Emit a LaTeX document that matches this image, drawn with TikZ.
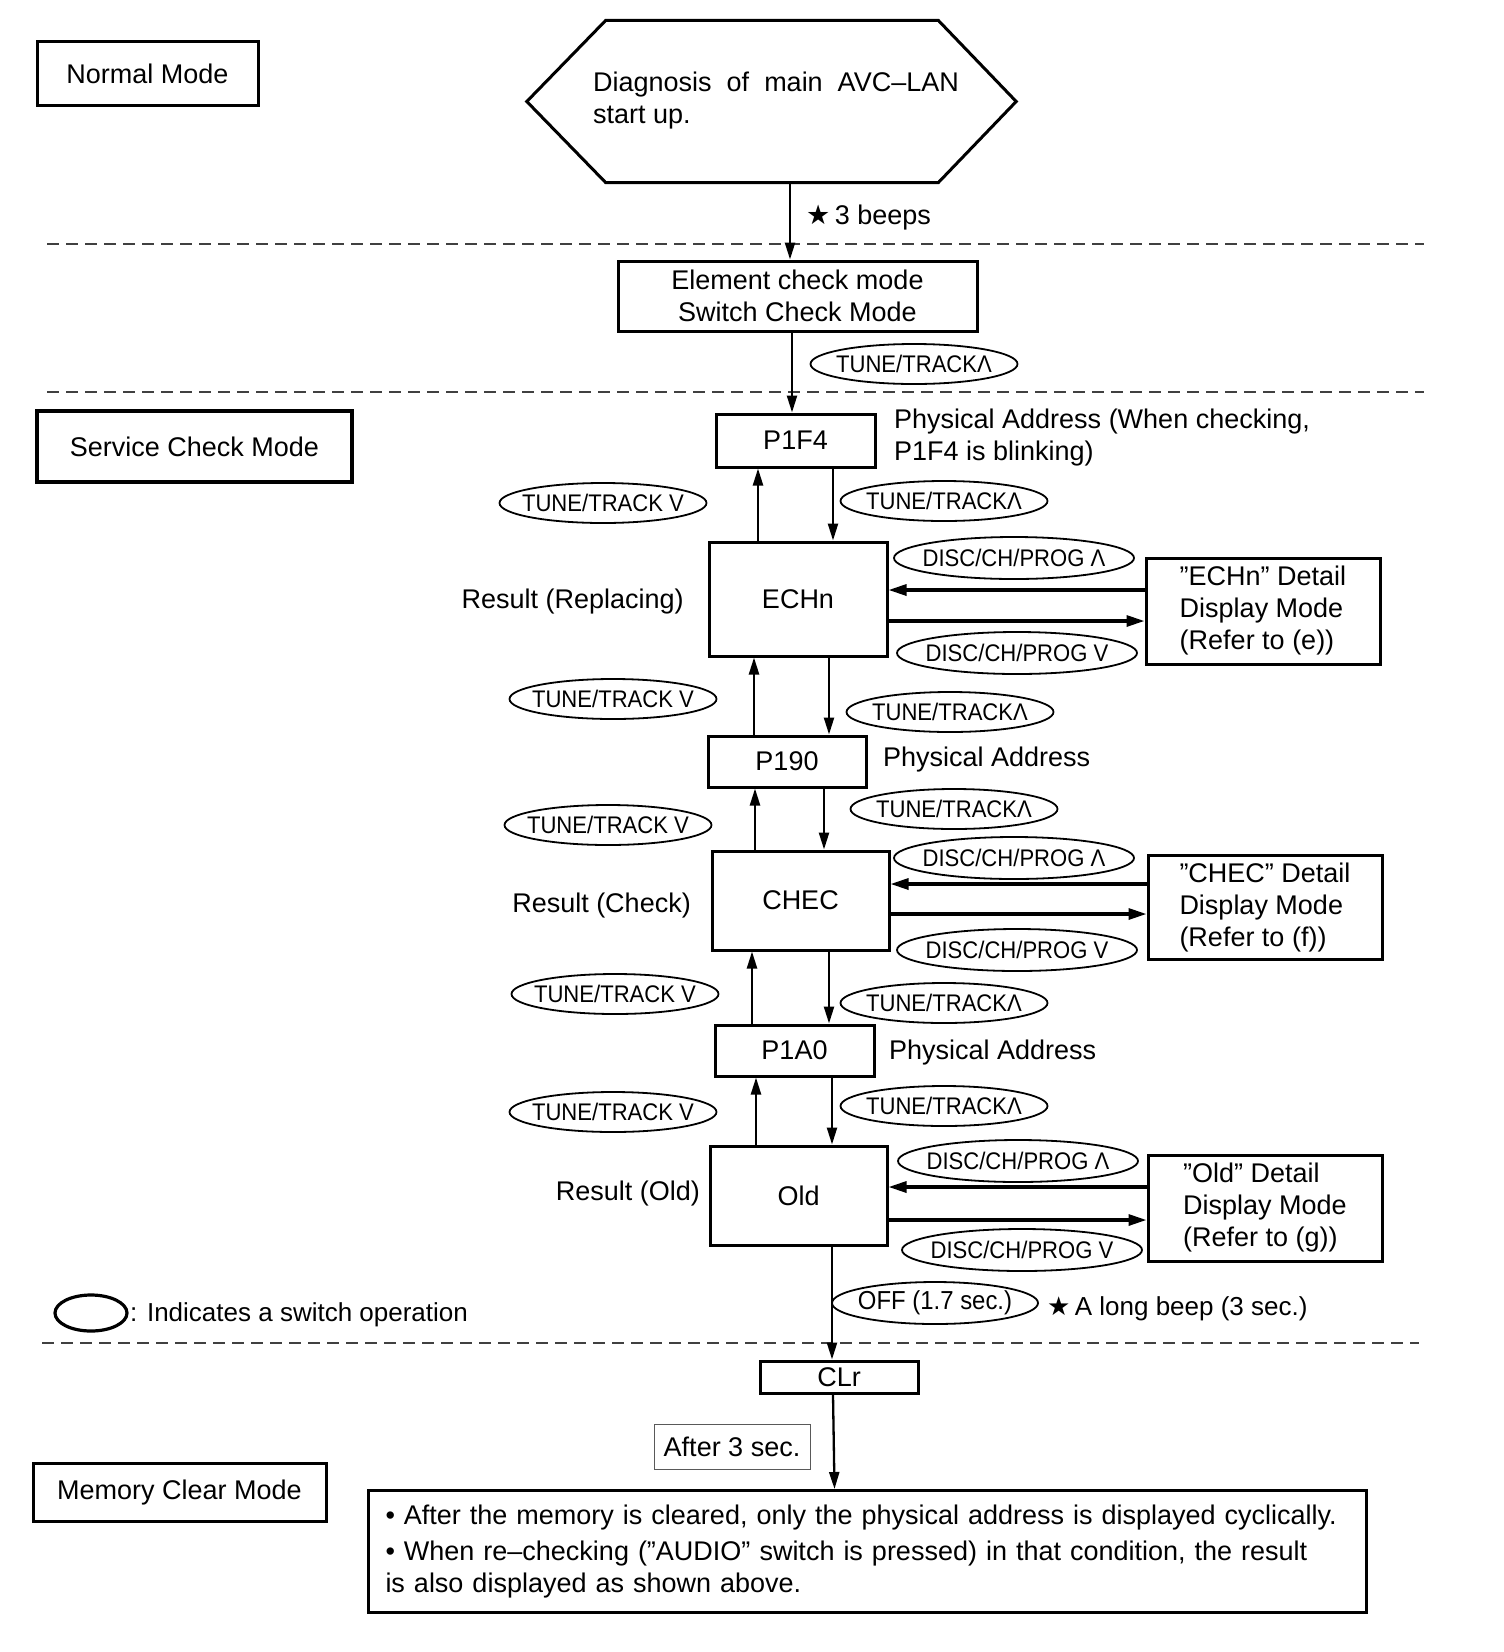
\documentclass[tikz,border=0pt]{standalone}
\usepackage{fontspec}
\setmainfont{Liberation Sans}
\newfontfamily\djv{DejaVu Sans}
\newfontfamily\condfont[FakeStretch=0.92]{Liberation Sans}
\usetikzlibrary{shapes.geometric,arrows.meta,calc}
\newcommand\mainsz{\fontsize{27}{32}\selectfont}
\newcommand\ellsz{\condfont\fontsize{24}{28}\selectfont}
\begin{document}
\begin{tikzpicture}[x=1pt,y=-1pt,
  box/.style={draw,line width=3pt,inner sep=0pt,align=center,font=\mainsz},
  sw/.style={draw,ellipse,line width=1.8pt,inner xsep=-30pt,inner ysep=-12pt,font=\ellsz,minimum width=207pt,minimum height=40pt},
  dsw/.style={sw,minimum width=240pt,minimum height=42pt},
  txt/.style={inner sep=0pt,font=\mainsz,align=left},
  arr/.style={line width=2.3pt,-{Triangle[length=17pt,width=10pt]}},
  harr/.style={line width=3.2pt,-{Triangle[length=18pt,width=11pt]}},
  dashln/.style={line width=1.5pt,black!75,dash pattern=on 12pt off 7pt}]
\useasboundingbox (0,0) rectangle (1504,1652);
\fill[white] (0,0) rectangle (1504,1652);

% ---------- Normal mode ----------
\node[box,minimum width=221pt,minimum height=64pt] (normal) at (147.5,73.5) {Normal Mode};
\node[inner sep=0pt,minimum width=489pt,minimum height=162pt] (diag) at (771.5,101.5) {};
\draw[line width=3pt] (diag.west) -- ($(diag.north west)+(79,0)$) -- ($(diag.north east)+(-78,0)$)
  -- (diag.east) -- ($(diag.south east)+(-78,0)$) -- ($(diag.south west)+(79,0)$) -- cycle;
\node[txt,anchor=west] (diagtext) at (593,101) {{\spaceskip=15pt plus 2pt\relax Diagnosis of main AVC–LAN}\\start up.};
\node[txt,anchor=west] (beeps) at (806,218) {{\djv ★}\,3 beeps};

\draw[dashln] (47,244) -- (1424,244);

% ---------- Element check ----------
\node[box,minimum width=359pt,minimum height=70pt] (elem) at (797.5,296) {Element check mode\\Switch Check Mode};
\draw[arr] ([xshift=18.5pt]diag.south) -- ([xshift=-7.5pt]elem.north);
\node[sw] (sw0) at (914,364) {TUNE/TRACKΛ};
\draw[dashln] (47,392) -- (1424,392);

% ---------- Service check ----------
\node[box,line width=3.4pt,minimum width=315pt,minimum height=71pt] (service) at (194.5,446.5) {Service Check Mode};

\node[box,minimum width=159pt,minimum height=53pt] (p1f4) at (795.5,440.5) {P1F4};
\draw[arr] ([xshift=-5.5pt]elem.south) -- ([xshift=-3.5pt]p1f4.north);
\node[txt,anchor=west] (phys1) at (894,438) {Physical Address (When checking,\\P1F4 is blinking)};

\node[box,minimum width=178pt,minimum height=114pt] (echn) at (798,599) {ECHn};
\draw[arr] ([xshift=-40pt]echn.north) -- ([xshift=-37.5pt]p1f4.south);
\draw[arr] ([xshift=37.5pt]p1f4.south) -- ([xshift=35pt]echn.north);
\node[sw] (tv1) at (603,503) {TUNE/TRACK V};
\node[sw] (tu1) at (944,501) {TUNE/TRACKΛ};
\node[txt,anchor=east] (resrep) at (684,602) {Result (Replacing)};
\node[dsw] (du1) at (1014,558) {DISC/CH/PROG Λ};
\node[dsw] (dv1) at (1017,653) {DISC/CH/PROG V};
\node[box,minimum width=234pt,minimum height=106pt,align=left] (det1) at (1263,611) {”ECHn” Detail\\Display Mode\\(Refer to (e))};
\draw[harr] ($(det1.west)+(0,-21)$) -- ($(echn.east |- det1.west)+(0,-21)$);
\draw[harr] ($(echn.east |- det1.west)+(0,10)$) -- ($(det1.west)+(0,10)$);

\node[box,minimum width=158pt,minimum height=51pt] (p190) at (787,761.5) {P190};
\draw[arr] ([xshift=-33pt]p190.north) -- ([xshift=-44pt]echn.south);
\draw[arr] ([xshift=31pt]echn.south) -- ([xshift=42pt]p190.north);
\node[sw] (tv2) at (613,699) {TUNE/TRACK V};
\node[sw] (tu2) at (950,712) {TUNE/TRACKΛ};
\node[txt,anchor=west] (phys2) at (883,760) {Physical Address};

\node[box,minimum width=177pt,minimum height=99pt] (chec) at (800.5,900.5) {CHEC};
\draw[arr] ([xshift=-45.5pt]chec.north) -- ([xshift=-32pt]p190.south);
\draw[arr] ([xshift=37pt]p190.south) -- ([xshift=23.5pt]chec.north);
\node[sw] (tv3) at (608,825) {TUNE/TRACK V};
\node[sw] (tu3) at (954,809) {TUNE/TRACKΛ};
\node[txt,anchor=east] (rescheck) at (691,905) {Result (Check)};
\node[dsw] (du2) at (1014,858) {DISC/CH/PROG Λ};
\node[dsw] (dv2) at (1017,950) {DISC/CH/PROG V};
\node[box,minimum width=234pt,minimum height=104pt,align=left] (det2) at (1265,907) {”CHEC” Detail\\Display Mode\\(Refer to (f))};
\draw[harr] ($(det2.west)+(0,-23)$) -- ($(chec.east |- det2.west)+(0,-23)$);
\draw[harr] ($(chec.east |- det2.west)+(0,7)$) -- ($(det2.west)+(0,7)$);

\node[box,minimum width=159pt,minimum height=51pt] (p1a0) at (794.5,1050.5) {P1A0};
\draw[arr] ([xshift=-42.5pt]p1a0.north) -- ([xshift=-48.5pt]chec.south);
\draw[arr] ([xshift=28.5pt]chec.south) -- ([xshift=34.5pt]p1a0.north);
\node[sw] (tv4) at (615,994) {TUNE/TRACK V};
\node[sw] (tu4) at (944,1003) {TUNE/TRACKΛ};
\node[txt,anchor=west] (phys3) at (889,1053) {Physical Address};

\node[box,minimum width=177pt,minimum height=99pt] (old) at (798.5,1195.5) {Old};
\draw[arr] ([xshift=-42.5pt]old.north) -- ([xshift=-38.5pt]p1a0.south);
\draw[arr] ([xshift=37.5pt]p1a0.south) -- ([xshift=33.5pt]old.north);
\node[sw] (tv5) at (613,1112) {TUNE/TRACK V};
\node[sw] (tu5) at (944,1106) {TUNE/TRACKΛ};
\node[txt,anchor=east] (resold) at (700,1193) {Result (Old)};
\node[dsw] (du3) at (1018,1161) {DISC/CH/PROG Λ};
\node[dsw] (dv3) at (1022,1250) {DISC/CH/PROG V};
\node[box,minimum width=234pt,minimum height=106pt,align=left] (det3) at (1265,1208) {”Old” Detail\\Display Mode\\(Refer to (g))};
\draw[harr] ($(det3.west)+(0,-21)$) -- ($(old.east |- det3.west)+(0,-21)$);
\draw[harr] ($(old.east |- det3.west)+(0,12)$) -- ($(det3.west)+(0,12)$);

\node[sw,minimum width=206pt,minimum height=42pt,font=\fontsize{26}{30}\selectfont\condfont] (off) at (935,1303) {OFF (1.7 sec.)};
\node[txt,anchor=west,font=\fontsize{26}{30}\selectfont] (longbeep) at (1047,1309) {{\djv ★}\,A long beep (3 sec.)};

\node[draw,ellipse,line width=3.2pt,minimum width=72pt,minimum height=36pt,inner sep=0pt] (legend) at (91,1313) {};
\node[txt,anchor=west,font=\fontsize{26}{30}\selectfont] (legendtext) at (130,1315) {: Indicates a switch operation};

\draw[dashln] (42,1343) -- (1419,1343);

% ---------- Memory clear ----------
\node[box,minimum width=158pt,minimum height=32pt] (clr) at (839,1377) {CLr};
\draw[arr] ([xshift=33.5pt]old.south) -- ([xshift=-7pt]clr.north);
\node[draw,line width=1pt,black!65,text=black,inner sep=0pt,minimum width=156pt,minimum height=45pt,font=\mainsz] (after) at (732,1446.5) {After 3 sec.};
\node[box,minimum width=293pt,minimum height=58pt] (memclear) at (179.5,1492) {Memory Clear Mode};
\node[box,anchor=north west,align=left,text width=964pt,inner xsep=17pt,inner ysep=0pt,minimum height=122pt,font=\fontsize{27}{32}\selectfont] (bigbox) at (367,1489)
  {• After the memory is cleared, only the physical address is displayed cyclically.\\[4pt]• When re–checking (”AUDIO” switch is pressed) in that condition, the result\\is also displayed as shown above.};
\draw[arr] ([xshift=-6pt]clr.south) -- ([xshift=-33pt]bigbox.north);
\end{tikzpicture}
\end{document}
